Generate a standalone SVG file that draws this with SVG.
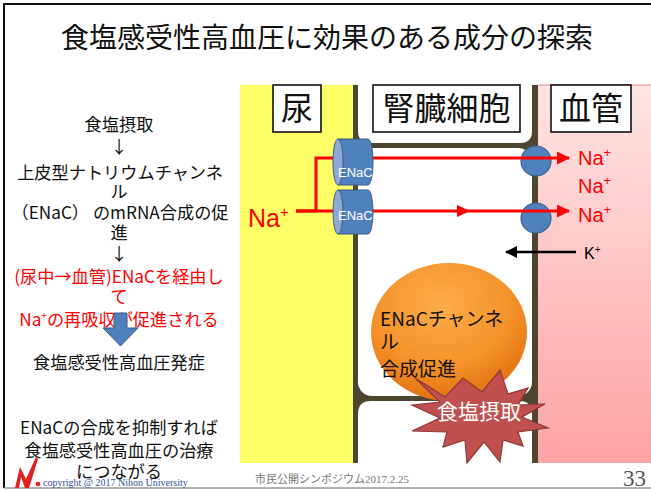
<svg xmlns="http://www.w3.org/2000/svg" width="651" height="490" viewBox="0 0 651 490">
  <style>
    .jp { font-family: "Noto Sans CJK JP", "Liberation Sans", sans-serif; }
    .col { font-size: 17.2px; fill: #111; text-anchor: middle; }
    .red { fill: #ff0000; }
    .lbl { font-size: 32px; fill: #111; text-anchor: middle; }
    .lblbox { fill: #ffffff; stroke: #111; stroke-width: 1.6; }
    .enac { fill: #4f81bd; stroke: #385d8a; stroke-width: 1; }
    .enaccap { fill: #8eaad6; stroke: #385d8a; stroke-width: 1; }
    .enactxt { font-family: "Liberation Sans", "DejaVu Sans", sans-serif; font-size: 13px; fill: #ffffff; }
    .pump { fill: #4f81bd; stroke: #3a5f8e; stroke-width: 1.2; }
    .naflow { fill: none; stroke: #ff0000; stroke-width: 3; }
    .na { font-family: "Liberation Sans", "Noto Sans", sans-serif; fill: #ff0000; }
  </style>
  <defs>
    <linearGradient id="bloodFill" x1="0" y1="0" x2="0" y2="1">
      <stop offset="0" stop-color="#ffe4e4"/>
      <stop offset="1" stop-color="#ffa3a3"/>
    </linearGradient>
    <radialGradient id="orangeFill" cx="0.45" cy="0.3" r="0.75">
      <stop offset="0" stop-color="#fbad48"/>
      <stop offset="0.6" stop-color="#f5912a"/>
      <stop offset="1" stop-color="#df6c0c"/>
    </radialGradient>
    <marker id="redHead" viewBox="0 0 12 12" refX="11" refY="6" markerWidth="13" markerHeight="13" markerUnits="userSpaceOnUse" orient="auto">
      <path d="M0,0 L12,6 L0,12 Z" fill="#ff0000"/>
    </marker>
    <marker id="blackHead" viewBox="0 0 12 12" refX="11" refY="6" markerWidth="12" markerHeight="12" markerUnits="userSpaceOnUse" orient="auto">
      <path d="M0,0 L12,6 L0,12 Z" fill="#000000"/>
    </marker>
  </defs>

  <!-- slide background and frame -->
  <rect x="0" y="0" width="651" height="490" fill="#ffffff"/>
  <line x1="4" y1="4" x2="651" y2="4" stroke="#111" stroke-width="2"/>
  <line x1="4" y1="3" x2="4" y2="488" stroke="#111" stroke-width="2"/>
  <line x1="4" y1="488" x2="651" y2="488" stroke="#999" stroke-width="1.5"/>

  <!-- title -->
  <text class="jp" x="327" y="48" font-size="28" fill="#111" text-anchor="middle">食塩感受性高血圧に効果のある成分の探索</text>

  <!-- left explanatory column -->
  <g id="explanation" class="jp col">
    <text x="119" y="131">食塩摂取</text>
    <text x="119" y="153">↓</text>
    <text x="120" y="179">上皮型ナトリウムチャンネ</text>
    <text x="119" y="198">ル</text>
    <text x="120" y="219">（ENaC） のmRNA合成の促</text>
    <text x="119" y="239">進</text>
    <text x="119" y="260">↓</text>
    <text class="red" x="119" y="283">(尿中→血管)ENaCを経由し</text>
    <text class="red" x="119" y="303">て</text>
    <text class="red" x="119" y="326">Na<tspan font-size="10" dy="-7">+</tspan><tspan dy="7">の再吸収が促進される</tspan></text>
    <text x="119" y="369">食塩感受性高血圧発症</text>
    <text x="119" y="434">ENaCの合成を抑制すれば</text>
    <text x="119" y="457">食塩感受性高血圧の治療</text>
    <text x="119" y="478">につながる</text>
  </g>
  <g id="down-arrow">
    <path d="M114,313 H127 V328 H138 L120.5,346 L103,328 H114 Z" fill="#4f81bd" stroke="#3a5f8e" stroke-width="1"/>
  </g>

  <!-- compartments: urine, kidney cells, blood vessel -->
  <g id="urine">
    <rect x="240" y="85" width="114" height="378" fill="#ffff66"/>
  </g>
  <g id="blood">
    <rect x="538" y="85" width="113" height="378" fill="url(#bloodFill)"/>
    <line x1="538" y1="85" x2="651" y2="85" stroke="#f08080" stroke-width="1"/>
  </g>
  <g id="cells">
    <rect x="353" y="85" width="185" height="378" fill="#4f4631"/>
    <path d="M358,85 H532 V131 Q532,143 520,143 H370 Q358,143 358,131 Z" fill="#ffffff"/>
    <rect x="358" y="148" width="174" height="248" rx="14" ry="14" fill="#ffffff"/>
    <path d="M358,463 V414 Q358,401 371,401 H519 Q532,401 532,414 V463 Z" fill="#ffffff"/>
  </g>

  <!-- section labels -->
  <g id="label-urine">
    <rect class="lblbox" x="273" y="85" width="48" height="47"/>
    <text class="jp lbl" x="297" y="120">尿</text>
  </g>
  <g id="label-cell">
    <rect class="lblbox" x="373" y="85" width="147" height="47"/>
    <text class="jp lbl" x="446.5" y="120">腎臓細胞</text>
  </g>
  <g id="label-blood">
    <rect class="lblbox" x="551" y="85" width="80" height="47"/>
    <text class="jp lbl" x="591" y="120">血管</text>
  </g>

  <!-- basolateral pumps -->
  <g id="pump-upper"><circle class="pump" cx="536" cy="161" r="15"/></g>
  <g id="pump-lower"><circle class="pump" cx="536" cy="218" r="15"/></g>

  <!-- sodium flow and potassium flow -->
  <g id="connectors">
    <path class="naflow" d="M296,211 H316 V158 H569" marker-end="url(#redHead)"/>
    <path class="naflow" d="M296,211 H569" marker-end="url(#redHead)"/>
    <path d="M457,205 L470,211 L457,217 Z" fill="#ff0000"/>
    <path d="M576,252 H506" stroke="#000" stroke-width="2.5" fill="none" marker-end="url(#blackHead)"/>
  </g>

  <!-- ENaC channels -->
  <g id="enac-upper">
    <path class="enac" d="M338,139 H368 A5,23 0 0 1 368,185 H338 Z"/>
    <ellipse class="enaccap" cx="338" cy="162" rx="5" ry="23"/>
    <text class="enactxt" x="338" y="177">ENaC</text>
  </g>
  <g id="enac-lower">
    <path class="enac" d="M338,190 H368 A5,22 0 0 1 368,234 H338 Z"/>
    <ellipse class="enaccap" cx="338" cy="212" rx="5" ry="22"/>
    <text class="enactxt" x="338" y="220">ENaC</text>
  </g>

  <!-- ion labels -->
  <g id="na-urine">
    <text class="na" x="248" y="227" font-size="25">Na<tspan font-size="15" dy="-10">+</tspan></text>
  </g>
  <g id="na-blood" class="na" font-size="20">
    <text x="578" y="165">Na<tspan font-size="13" dy="-8">+</tspan></text>
    <text x="578" y="193">Na<tspan font-size="13" dy="-8">+</tspan></text>
    <text x="578" y="222">Na<tspan font-size="13" dy="-8">+</tspan></text>
  </g>
  <g id="k-label">
    <text x="584" y="259" font-family="Liberation Sans, sans-serif" font-size="16" fill="#000">K<tspan font-size="10" dy="-6">+</tspan></text>
  </g>

  <!-- ENaC synthesis bubble -->
  <g id="synthesis">
    <ellipse cx="449" cy="332" rx="78" ry="69" fill="url(#orangeFill)"/>
    <text class="jp" x="380" y="326" font-size="19" fill="#111">ENaCチャンネ</text>
    <text class="jp" x="380" y="349" font-size="19" fill="#111">ル</text>
    <text class="jp" x="380" y="376" font-size="19" fill="#111">合成促進</text>
  </g>

  <!-- salt intake burst -->
  <g id="salt-intake">
    <polygon points="415,378 445,397 463,378 482,392 500,370 508,394 528,388 518,405 545,404 522,417 548,428 518,432 523,446 503,440 500,462 484,442 467,463 465,440 443,447 447,432 412,431 440,418 412,405 440,402" fill="#c0504d" stroke="#8c3836" stroke-width="1.2" stroke-linejoin="miter"/>
    <text class="jp" x="479" y="419" font-size="21" fill="#ffffff" text-anchor="middle">食塩摂取</text>
  </g>

  <!-- footer -->
  <g id="footer">
    <path d="M15,488 L20,467 L26,479 L36,457 L38,459 L29,488 L25,488 L21,477 L19,488 Z" fill="#e02020"/>
    <circle cx="38" cy="484" r="2.3" fill="#e02020"/>
    <text x="43" y="486" font-family="Liberation Serif, serif" font-size="10" fill="#3050a0">copyright @ 2017 Nihon University</text>
    <text x="255" y="483" font-size="11" fill="#777"><tspan class="jp">市民公開シンポジウム</tspan><tspan font-family="Liberation Serif, serif">2017.2.25</tspan></text>
    <text x="646" y="486" font-family="Liberation Serif, serif" font-size="23" fill="#555" text-anchor="end">33</text>
  </g>
</svg>
